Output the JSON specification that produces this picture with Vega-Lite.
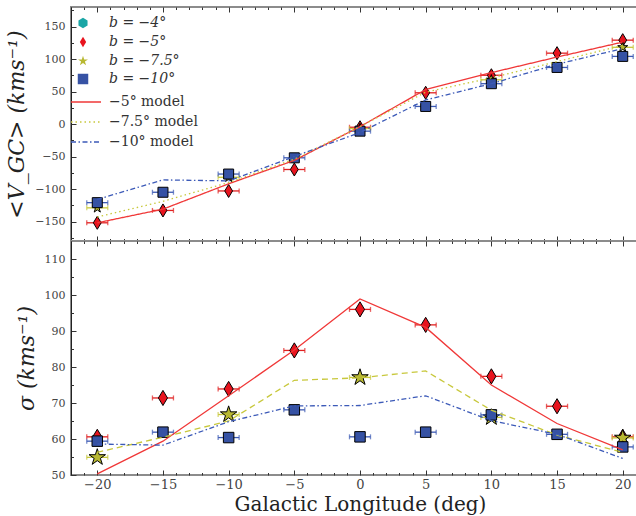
{
  "$schema": "https://vega.github.io/schema/vega-lite/v6.json",
  "padding": {"left": 4, "top": 5, "right": 1, "bottom": 2},
  "spacing": 0,
  "bounds": "flush",
  "datasets": {
    "obs": [
      {"l": -20, "v": -152, "s": 60.6, "e": 0.8, "series": "b = −5°"},
      {"l": -15, "v": -133, "s": 71.4, "e": 0.8, "series": "b = −5°"},
      {"l": -10, "v": -103, "s": 73.9, "e": 0.8, "series": "b = −5°"},
      {"l": -5, "v": -70, "s": 84.6, "e": 0.8, "series": "b = −5°"},
      {"l": 0, "v": -5, "s": 96.0, "e": 0.8, "series": "b = −5°"},
      {"l": 5, "v": 48, "s": 91.7, "e": 0.8, "series": "b = −5°"},
      {"l": 10, "v": 75, "s": 77.4, "e": 0.8, "series": "b = −5°"},
      {"l": 15, "v": 109, "s": 69.1, "e": 0.8, "series": "b = −5°"},
      {"l": 20, "v": 129, "s": 60.6, "e": 0.8, "series": "b = −5°"},
      {"l": -20, "v": -129, "s": 54.9, "e": 0.8, "series": "b = −7.5°"},
      {"l": -10, "v": -82, "s": 66.8, "e": 0.8, "series": "b = −7.5°"},
      {"l": 0, "v": -7, "s": 77.1, "e": 0.8, "series": "b = −7.5°"},
      {"l": 10, "v": 68, "s": 66.0, "e": 0.8, "series": "b = −7.5°"},
      {"l": 20, "v": 118, "s": 60.3, "e": 0.8, "series": "b = −7.5°"},
      {"l": -20, "v": -121, "s": 59.4, "e": 0.8, "series": "b = −10°"},
      {"l": -15, "v": -105, "s": 61.9, "e": 0.8, "series": "b = −10°"},
      {"l": -10, "v": -77, "s": 60.4, "e": 0.8, "series": "b = −10°"},
      {"l": -5, "v": -52, "s": 68.1, "e": 0.8, "series": "b = −10°"},
      {"l": 0, "v": -11, "s": 60.6, "e": 0.8, "series": "b = −10°"},
      {"l": 5, "v": 27, "s": 61.9, "e": 0.8, "series": "b = −10°"},
      {"l": 10, "v": 62, "s": 66.7, "e": 0.8, "series": "b = −10°"},
      {"l": 15, "v": 87, "s": 61.3, "e": 0.8, "series": "b = −10°"},
      {"l": 20, "v": 104, "s": 57.8, "e": 0.8, "series": "b = −10°"}
    ],
    "models": [
      {"l": -20, "v": -152, "s": 50.3, "model": "−5° model"},
      {"l": -15, "v": -131, "s": 59.4, "model": "−5° model"},
      {"l": -10, "v": -92, "s": 72.0, "model": "−5° model"},
      {"l": -5, "v": -56, "s": 84.7, "model": "−5° model"},
      {"l": 0, "v": -4, "s": 98.9, "model": "−5° model"},
      {"l": 5, "v": 53, "s": 91.0, "model": "−5° model"},
      {"l": 10, "v": 79, "s": 75.0, "model": "−5° model"},
      {"l": 15, "v": 103, "s": 64.3, "model": "−5° model"},
      {"l": 20, "v": 126, "s": 57.0, "model": "−5° model"},
      {"l": -20, "v": -143, "s": 56.3, "model": "−7.5° model"},
      {"l": -15, "v": -119, "s": 60.5, "model": "−7.5° model"},
      {"l": -10, "v": -90, "s": 65.0, "model": "−7.5° model"},
      {"l": -5, "v": -54, "s": 76.3, "model": "−7.5° model"},
      {"l": 0, "v": -4, "s": 77.0, "model": "−7.5° model"},
      {"l": 5, "v": 49, "s": 78.9, "model": "−7.5° model"},
      {"l": 10, "v": 71, "s": 68.0, "model": "−7.5° model"},
      {"l": 15, "v": 96, "s": 61.1, "model": "−7.5° model"},
      {"l": 20, "v": 121, "s": 56.3, "model": "−7.5° model"},
      {"l": -20, "v": -116, "s": 58.6, "model": "−10° model"},
      {"l": -15, "v": -86, "s": 58.3, "model": "−10° model"},
      {"l": -10, "v": -87.5, "s": 64.8, "model": "−10° model"},
      {"l": -5, "v": -50, "s": 69.2, "model": "−10° model"},
      {"l": 0, "v": -13, "s": 69.3, "model": "−10° model"},
      {"l": 5, "v": 37, "s": 72.0, "model": "−10° model"},
      {"l": 10, "v": 62, "s": 65.1, "model": "−10° model"},
      {"l": 15, "v": 92, "s": 61.3, "model": "−10° model"},
      {"l": 20, "v": 116, "s": 54.6, "model": "−10° model"}
    ]
  },
  "vconcat": [
    {
      "width": 578,
      "height": 234,
      "layer": [
        {
          "layer": [
            {
              "data": {"name": "obs"},
              "transform": [{"filter": "datum.series === 'b = −5°'"}],
              "mark": {"type": "errorbar", "color": "#e02020", "thickness": 1.3, "ticks": {"size": 5}},
              "encoding": {
                "x": {"field": "l", "type": "quantitative", "title": null, "scale": {"domain": [-22, 22], "nice": false, "zero": false},
                  "axis": {"orient": "bottom", "title": null, "labels": false, "domain": false, "values": [-20, -15, -10, -5, 0, 5, 10, 15, 20], "tickSize": -5}},
                "xError": {"field": "e"},
                "y": {"field": "v", "type": "quantitative", "title": "<V_GC> (kms⁻¹)", "scale": {"domain": [-180, 180], "nice": false, "zero": false},
                  "axis": {"orient": "left", "title": "<V_GC> (kms⁻¹)", "values": [-150, -50, 50, 150], "tickSize": -5, "labelPadding": 11, "labelOverlap": false, "domain": true, "domainColor": "#222", "domainWidth": 1}}
              }
            },
            {
              "data": {"name": "obs"},
              "transform": [{"filter": "datum.series === 'b = −5°'"}],
              "mark": {"type": "point", "filled": true, "stroke": "black", "strokeWidth": 1, "opacity": 1, "size": 170},
              "encoding": {
                "x": {"field": "l", "type": "quantitative", "title": null},
                "y": {"field": "v", "type": "quantitative", "title": "<V_GC> (kms⁻¹)"},
                "fill": {"field": "series", "type": "nominal",
                  "scale": {"domain": ["b = −4°", "b = −5°", "b = −7.5°", "b = −10°"], "range": ["#1aa6a6", "#e8141e", "#b8b832", "#3652a4"]},
                  "legend": {"orient": "none", "legendX": 5, "legendY": 9, "title": null, "labelFontStyle": "italic", "labelFontSize": 14, "labelFont": "DejaVu Serif", "labelColor": "#333", "symbolSize": 110, "symbolStrokeColor": "black", "symbolStrokeWidth": 1, "rowPadding": 3, "labelOffset": 19, "padding": 0}},
                "shape": {"field": "series", "type": "nominal",
                  "scale": {"domain": ["b = −4°", "b = −5°", "b = −7.5°", "b = −10°"], "range": ["M0,-1L0.866,-0.5L0.866,0.5L0,1L-0.866,0.5L-0.866,-0.5Z", "M0,-1L0.6,0L0,1L-0.6,0Z", "M0,-1L0.2234,-0.3074L0.9511,-0.309L0.3614,0.1174L0.5878,0.809L0,0.38L-0.5878,0.809L-0.3614,0.1174L-0.9511,-0.309L-0.2234,-0.3074Z", "square"]},
                  "legend": {"orient": "none", "legendX": 5, "legendY": 9, "title": null, "labelFontStyle": "italic", "labelFontSize": 14, "labelFont": "DejaVu Serif", "labelColor": "#333", "symbolSize": 110, "symbolStrokeColor": "black", "symbolStrokeWidth": 1, "rowPadding": 3, "labelOffset": 19, "padding": 0}}
              }
            },
            {
              "data": {"name": "obs"},
              "transform": [{"filter": "datum.series === 'b = −7.5°'"}],
              "mark": {"type": "errorbar", "color": "#c8c83c", "thickness": 1.3, "ticks": {"size": 5}},
              "encoding": {
                "x": {"field": "l", "type": "quantitative", "title": null},
                "xError": {"field": "e"},
                "y": {"field": "v", "type": "quantitative", "title": "<V_GC> (kms⁻¹)"}
              }
            },
            {
              "data": {"name": "obs"},
              "transform": [{"filter": "datum.series === 'b = −7.5°'"}],
              "mark": {"type": "point", "filled": true, "stroke": "black", "strokeWidth": 1, "opacity": 1, "size": 110},
              "encoding": {
                "x": {"field": "l", "type": "quantitative", "title": null},
                "y": {"field": "v", "type": "quantitative", "title": "<V_GC> (kms⁻¹)"},
                "fill": {"field": "series", "type": "nominal"},
                "shape": {"field": "series", "type": "nominal"}
              }
            },
            {
              "data": {"name": "obs"},
              "transform": [{"filter": "datum.series === 'b = −10°'"}],
              "mark": {"type": "errorbar", "color": "#3c5ab4", "thickness": 1.3, "ticks": {"size": 5}},
              "encoding": {
                "x": {"field": "l", "type": "quantitative", "title": null},
                "xError": {"field": "e"},
                "y": {"field": "v", "type": "quantitative", "title": "<V_GC> (kms⁻¹)"}
              }
            },
            {
              "data": {"name": "obs"},
              "transform": [{"filter": "datum.series === 'b = −10°'"}],
              "mark": {"type": "point", "filled": true, "stroke": "black", "strokeWidth": 1, "opacity": 1, "size": 100},
              "encoding": {
                "x": {"field": "l", "type": "quantitative", "title": null},
                "y": {"field": "v", "type": "quantitative", "title": "<V_GC> (kms⁻¹)"},
                "fill": {"field": "series", "type": "nominal"},
                "shape": {"field": "series", "type": "nominal"}
              }
            },
            {
              "data": {"name": "models"},
              "mark": {"type": "line", "strokeWidth": 1.3},
              "encoding": {
                "x": {"field": "l", "type": "quantitative", "title": null},
                "y": {"field": "v", "type": "quantitative", "title": "<V_GC> (kms⁻¹)"},
                "stroke": {"field": "model", "type": "nominal", "sort": null,
                  "scale": {"domain": ["−5° model", "−7.5° model", "−10° model"], "range": ["#f03838", "#c8c83c", "#3c5ab8"]},
                  "legend": {"orient": "none", "legendX": 5, "legendY": 88, "title": null, "labelFontSize": 14, "labelFont": "DejaVu Serif", "labelColor": "#333", "symbolSize": 144, "symbolStrokeWidth": 1.5, "symbolType": "M-2.5,0H2.5", "symbolOffset": 3, "rowPadding": 6, "labelOffset": 16, "padding": 0}},
                "strokeDash": {"field": "model", "type": "nominal", "sort": null,
                  "scale": {"domain": ["−5° model", "−7.5° model", "−10° model"], "range": [[1, 0], [1.5, 3], [5, 2.5, 1.5, 2.5]]},
                  "legend": {"orient": "none", "legendX": 5, "legendY": 88, "title": null, "labelFontSize": 14, "labelFont": "DejaVu Serif", "labelColor": "#333", "symbolSize": 144, "symbolStrokeWidth": 1.5, "symbolType": "M-2.5,0H2.5", "symbolOffset": 3, "rowPadding": 6, "labelOffset": 16, "padding": 0}}
              }
            }
          ]
        },
        {
          "data": {"name": "obs"},
          "mark": {"type": "point", "opacity": 0},
          "encoding": {
            "x": {"field": "l", "type": "quantitative", "title": null, "scale": {"domain": [-22, 22], "nice": false, "zero": false},
              "axis": {"orient": "bottom", "title": null, "labels": false, "domain": false, "tickSize": -2.5, "values": [-22,-21,-19,-18,-17,-16,-14,-13,-12,-11,-9,-8,-7,-6,-4,-3,-2,-1,1,2,3,4,6,7,8,9,11,12,13,14,16,17,18,19,21,22]}},
            "y": {"field": "v", "type": "quantitative", "title": null, "scale": {"domain": [-180, 180], "nice": false, "zero": false},
              "axis": {"orient": "left", "title": null, "labels": false, "domain": false, "tickSize": -2.5, "values": [-175, -125, -75, -25, 25, 75, 125, 175]}}
          }
        },
        {
          "data": {"name": "obs"},
          "mark": {"type": "point", "opacity": 0},
          "encoding": {
            "x": {"field": "l", "type": "quantitative", "title": null, "scale": {"domain": [-22, 22], "nice": false, "zero": false},
              "axis": {"orient": "top", "title": null, "labels": false, "domain": false, "tickSize": -5, "values": [-20, -15, -10, -5, 0, 5, 10, 15, 20]}},
            "y": {"field": "v", "type": "quantitative", "title": null, "scale": {"domain": [-180, 180], "nice": false, "zero": false},
              "axis": {"orient": "right", "title": null, "labels": false, "domain": false, "tickSize": -5, "values": [-150, -100, -50, 0, 50, 100, 150]}}
          }
        },
        {
          "data": {"name": "obs"},
          "mark": {"type": "point", "opacity": 0},
          "encoding": {
            "x": {"field": "l", "type": "quantitative", "title": null, "scale": {"domain": [-22, 22], "nice": false, "zero": false},
              "axis": {"orient": "top", "title": null, "labels": false, "domain": false, "tickSize": -2.5, "values": [-22,-21,-19,-18,-17,-16,-14,-13,-12,-11,-9,-8,-7,-6,-4,-3,-2,-1,1,2,3,4,6,7,8,9,11,12,13,14,16,17,18,19,21,22]}},
            "y": {"field": "v", "type": "quantitative", "title": null, "scale": {"domain": [-180, 180], "nice": false, "zero": false},
              "axis": {"orient": "right", "title": null, "labels": false, "domain": false, "tickSize": -2.5, "values": [-175, -125, -75, -25, 25, 75, 125, 175]}}
          }
        },
        {
          "data": {"name": "obs"},
          "mark": {"type": "point", "opacity": 0},
          "encoding": {
            "x": {"field": "l", "type": "quantitative", "title": null, "scale": {"domain": [-22, 22], "nice": false, "zero": false}, "axis": null},
            "y": {"field": "v", "type": "quantitative", "title": null, "scale": {"domain": [-180, 180], "nice": false, "zero": false},
              "axis": {"orient": "left", "title": null, "labels": true, "domain": false, "tickSize": -5, "labelPadding": 11, "labelOverlap": false, "values": [-100, 0, 100]}}
          }
        }
      ],
      "resolve": {"axis": {"x": "independent", "y": "independent"}}
    },
    {
      "width": 578,
      "height": 234,
      "layer": [
        {
          "layer": [
            {
              "data": {"name": "obs"},
              "transform": [{"filter": "datum.series === 'b = −5°'"}],
              "mark": {"type": "errorbar", "color": "#e02020", "thickness": 1.3, "ticks": {"size": 5}},
              "encoding": {
                "x": {"field": "l", "type": "quantitative", "title": "Galactic Longitude (deg)", "scale": {"domain": [-22, 22], "nice": false, "zero": false},
                  "axis": {"orient": "bottom", "title": "Galactic Longitude (deg)", "titleFontSize": 20, "titleFontStyle": "normal", "titleFontWeight": "normal", "titleColor": "#222", "titlePadding": 3, "labelFontSize": 13, "labelPadding": 8, "domain": false, "values": [-20, -15, -10, -5, 0, 5, 10, 15, 20], "tickSize": -5}},
                "xError": {"field": "e"},
                "y": {"field": "s", "type": "quantitative", "title": "σ (kms⁻¹)", "scale": {"domain": [50, 115], "nice": false, "zero": false},
                  "axis": {"orient": "left", "title": "σ (kms⁻¹)", "values": [50, 70, 90, 110], "tickSize": -5, "labelPadding": 11, "labelOverlap": false, "domain": true, "domainColor": "#222", "domainWidth": 1}}
              }
            },
            {
              "data": {"name": "obs"},
              "transform": [{"filter": "datum.series === 'b = −5°'"}],
              "mark": {"type": "point", "filled": true, "fill": "#e8141e", "stroke": "black", "strokeWidth": 1, "opacity": 1, "size": 230, "shape": "M0,-1L0.6,0L0,1L-0.6,0Z"},
              "encoding": {
                "x": {"field": "l", "type": "quantitative", "title": "Galactic Longitude (deg)"},
                "y": {"field": "s", "type": "quantitative", "title": "σ (kms⁻¹)"}
              }
            },
            {
              "data": {"name": "obs"},
              "transform": [{"filter": "datum.series === 'b = −7.5°'"}],
              "mark": {"type": "errorbar", "color": "#c8c83c", "thickness": 1.3, "ticks": {"size": 5}},
              "encoding": {
                "x": {"field": "l", "type": "quantitative", "title": "Galactic Longitude (deg)"},
                "xError": {"field": "e"},
                "y": {"field": "s", "type": "quantitative", "title": "σ (kms⁻¹)"}
              }
            },
            {
              "data": {"name": "obs"},
              "transform": [{"filter": "datum.series === 'b = −7.5°'"}],
              "mark": {"type": "point", "filled": true, "fill": "#b8b832", "stroke": "black", "strokeWidth": 1, "opacity": 1, "size": 300, "shape": "M0,-1L0.2234,-0.3074L0.9511,-0.309L0.3614,0.1174L0.5878,0.809L0,0.38L-0.5878,0.809L-0.3614,0.1174L-0.9511,-0.309L-0.2234,-0.3074Z"},
              "encoding": {
                "x": {"field": "l", "type": "quantitative", "title": "Galactic Longitude (deg)"},
                "y": {"field": "s", "type": "quantitative", "title": "σ (kms⁻¹)"}
              }
            },
            {
              "data": {"name": "obs"},
              "transform": [{"filter": "datum.series === 'b = −10°'"}],
              "mark": {"type": "errorbar", "color": "#3c5ab4", "thickness": 1.3, "ticks": {"size": 5}},
              "encoding": {
                "x": {"field": "l", "type": "quantitative", "title": "Galactic Longitude (deg)"},
                "xError": {"field": "e"},
                "y": {"field": "s", "type": "quantitative", "title": "σ (kms⁻¹)"}
              }
            },
            {
              "data": {"name": "obs"},
              "transform": [{"filter": "datum.series === 'b = −10°'"}],
              "mark": {"type": "point", "filled": true, "fill": "#3652a4", "stroke": "black", "strokeWidth": 1, "opacity": 1, "size": 110, "shape": "square"},
              "encoding": {
                "x": {"field": "l", "type": "quantitative", "title": "Galactic Longitude (deg)"},
                "y": {"field": "s", "type": "quantitative", "title": "σ (kms⁻¹)"}
              }
            },
            {
              "data": {"name": "models"},
              "transform": [{"filter": "datum.model === '−5° model'"}],
              "mark": {"type": "line", "strokeWidth": 1.3, "color": "#f03838"},
              "encoding": {
                "x": {"field": "l", "type": "quantitative", "title": "Galactic Longitude (deg)"},
                "y": {"field": "s", "type": "quantitative", "title": "σ (kms⁻¹)"}
              }
            },
            {
              "data": {"name": "models"},
              "transform": [{"filter": "datum.model === '−7.5° model'"}],
              "mark": {"type": "line", "strokeWidth": 1.3, "color": "#c8c83c", "strokeDash": [6, 4]},
              "encoding": {
                "x": {"field": "l", "type": "quantitative", "title": "Galactic Longitude (deg)"},
                "y": {"field": "s", "type": "quantitative", "title": "σ (kms⁻¹)"}
              }
            },
            {
              "data": {"name": "models"},
              "transform": [{"filter": "datum.model === '−10° model'"}],
              "mark": {"type": "line", "strokeWidth": 1.3, "color": "#3c5ab8", "strokeDash": [5, 2.5, 1.5, 2.5]},
              "encoding": {
                "x": {"field": "l", "type": "quantitative", "title": "Galactic Longitude (deg)"},
                "y": {"field": "s", "type": "quantitative", "title": "σ (kms⁻¹)"}
              }
            }
          ]
        },
        {
          "data": {"name": "obs"},
          "mark": {"type": "point", "opacity": 0},
          "encoding": {
            "x": {"field": "l", "type": "quantitative", "title": null, "scale": {"domain": [-22, 22], "nice": false, "zero": false},
              "axis": {"orient": "bottom", "title": null, "labels": false, "domain": false, "tickSize": -2.5, "values": [-22,-21,-19,-18,-17,-16,-14,-13,-12,-11,-9,-8,-7,-6,-4,-3,-2,-1,1,2,3,4,6,7,8,9,11,12,13,14,16,17,18,19,21,22]}},
            "y": {"field": "s", "type": "quantitative", "title": null, "scale": {"domain": [50, 115], "nice": false, "zero": false},
              "axis": {"orient": "left", "title": null, "labels": false, "domain": false, "tickSize": -2.5, "values": [55, 65, 75, 85, 95, 105]}}
          }
        },
        {
          "data": {"name": "obs"},
          "mark": {"type": "point", "opacity": 0},
          "encoding": {
            "x": {"field": "l", "type": "quantitative", "title": null, "scale": {"domain": [-22, 22], "nice": false, "zero": false},
              "axis": {"orient": "top", "title": null, "labels": false, "domain": false, "tickSize": -5, "values": [-20, -15, -10, -5, 0, 5, 10, 15, 20]}},
            "y": {"field": "s", "type": "quantitative", "title": null, "scale": {"domain": [50, 115], "nice": false, "zero": false},
              "axis": {"orient": "right", "title": null, "labels": false, "domain": false, "tickSize": -5, "values": [50, 60, 70, 80, 90, 100, 110]}}
          }
        },
        {
          "data": {"name": "obs"},
          "mark": {"type": "point", "opacity": 0},
          "encoding": {
            "x": {"field": "l", "type": "quantitative", "title": null, "scale": {"domain": [-22, 22], "nice": false, "zero": false},
              "axis": {"orient": "top", "title": null, "labels": false, "domain": false, "tickSize": -2.5, "values": [-22,-21,-19,-18,-17,-16,-14,-13,-12,-11,-9,-8,-7,-6,-4,-3,-2,-1,1,2,3,4,6,7,8,9,11,12,13,14,16,17,18,19,21,22]}},
            "y": {"field": "s", "type": "quantitative", "title": null, "scale": {"domain": [50, 115], "nice": false, "zero": false},
              "axis": {"orient": "right", "title": null, "labels": false, "domain": false, "tickSize": -2.5, "values": [55, 65, 75, 85, 95, 105]}}
          }
        },
        {
          "data": {"name": "obs"},
          "mark": {"type": "point", "opacity": 0},
          "encoding": {
            "x": {"field": "l", "type": "quantitative", "title": null, "scale": {"domain": [-22, 22], "nice": false, "zero": false}, "axis": null},
            "y": {"field": "s", "type": "quantitative", "title": null, "scale": {"domain": [50, 115], "nice": false, "zero": false},
              "axis": {"orient": "left", "title": null, "labels": true, "domain": false, "tickSize": -5, "labelPadding": 11, "labelOverlap": false, "values": [60, 80, 100]}}
          }
        }
      ],
      "resolve": {"axis": {"x": "independent", "y": "independent"}}
    }
  ],
  "config": {
    "font": "DejaVu Serif",
    "view": {"stroke": "#8c8c8c", "strokeWidth": 2},
    "axis": {
      "grid": false,
      "labelFont": "DejaVu Serif",
      "labelFontSize": 11,
      "labelColor": "#444",
      "labelPadding": 4,
      "labelOverlap": false,
      "tickColor": "#333",
      "tickWidth": 1,
      "titleFont": "DejaVu Serif",
      "titleFontSize": 22,
      "titleFontWeight": "normal",
      "titleFontStyle": "italic",
      "titleColor": "#222"
    },
    "axisLeft": {"titlePadding": 6}
  }
}
